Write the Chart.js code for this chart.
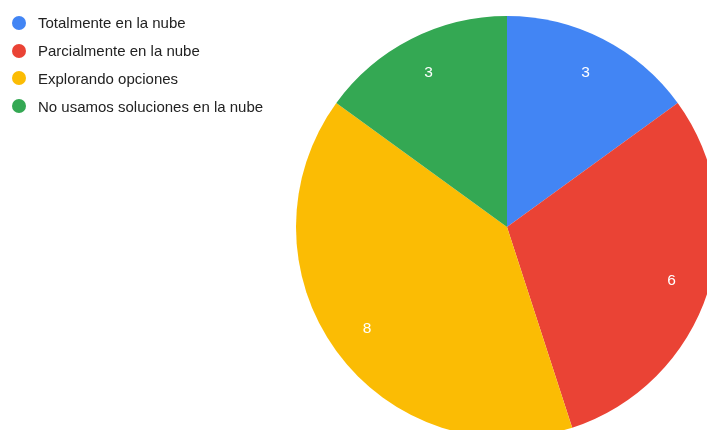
<!DOCTYPE html>
<html lang="es">
<head>
<meta charset="utf-8">
<script src="https://cdn.jsdelivr.net/npm/chart.js@4/dist/chart.umd.min.js"></script>
<style>
  html, body { margin: 0; padding: 0; background: #fff; overflow: hidden; }
  body { width: 707px; height: 430px; position: relative; font-family: "Liberation Sans", Arial, sans-serif; }
  #wrap { position: absolute; left: 0; top: 0; width: 740px; height: 460px; }
  #legend { position: absolute; left: 12px; top: 9px; margin: 0; padding: 0; list-style: none; }
  #legend li { height: 27.8px; display: flex; align-items: center; font-size: 15px; color: #222; white-space: nowrap; }
  #legend span.dot { width: 14px; height: 14px; border-radius: 50%; margin-right: 12px; flex: none; }
</style>
</head>
<body>
<div id="wrap"><canvas id="pie"></canvas></div>
<ul id="legend"></ul>
<script>
// respuestas por categoría, en sentido horario desde arriba
const categorias = ['Totalmente en la nube', 'Parcialmente en la nube', 'Explorando opciones', 'No usamos soluciones en la nube'];
const respuestas = [3, 6, 8, 3];
const colores = ['#4285F4', '#EA4335', '#FBBC04', '#34A853'];

// leyenda en HTML a la izquierda
const legend = document.getElementById('legend');
categorias.forEach((nombre, i) => {
  const li = document.createElement('li');
  const dot = document.createElement('span');
  dot.className = 'dot';
  dot.style.background = colores[i];
  li.appendChild(dot);
  li.appendChild(document.createTextNode(nombre));
  legend.appendChild(li);
});

// valor dentro de cada porción
const sliceLabels = {
  id: 'sliceLabels',
  afterDatasetsDraw(chart) {
    const { ctx } = chart;
    const meta = chart.getDatasetMeta(0);
    ctx.save();
    ctx.fillStyle = '#ffffff';
    ctx.font = '15.5px "Liberation Sans", Arial, sans-serif';
    ctx.textAlign = 'center';
    ctx.textBaseline = 'middle';
    meta.data.forEach((arc, i) => {
      const mid = (arc.startAngle + arc.endAngle) / 2;
      const r = arc.outerRadius * 0.82;
      ctx.fillText(String(chart.data.datasets[0].data[i]), arc.x + Math.cos(mid) * r, arc.y + Math.sin(mid) * r);
    });
    ctx.restore();
  },
};

new Chart(document.getElementById('pie'), {
  type: 'pie',
  data: {
    labels: categorias,
    datasets: [{
      data: respuestas,
      backgroundColor: colores,
      borderWidth: 0,
    }],
  },
  options: {
    responsive: true,
    maintainAspectRatio: false,
    animation: false,
    layout: { padding: { left: 296, top: 16, right: 22, bottom: 22 } },
    plugins: {
      legend: { display: false },
      tooltip: { enabled: false },
    },
  },
  plugins: [sliceLabels],
});
</script>
</body>
</html>
